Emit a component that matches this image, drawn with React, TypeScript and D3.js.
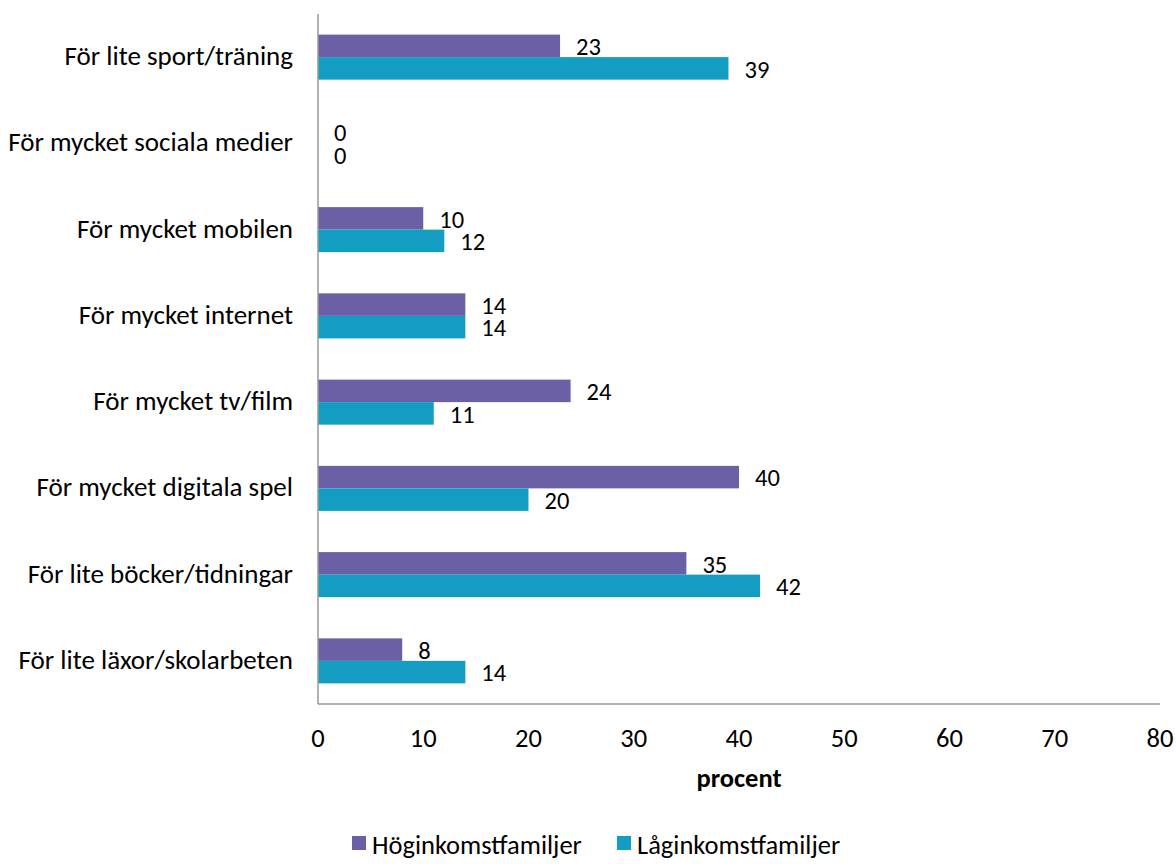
import React from "react";
import * as d3 from "d3";

const categories = [
  "För lite sport/träning",
  "För mycket sociala medier",
  "För mycket mobilen",
  "För mycket internet",
  "För mycket tv/film",
  "För mycket digitala spel",
  "För lite böcker/tidningar",
  "För lite läxor/skolarbeten",
];
const hogValues = [23, 0, 10, 14, 24, 40, 35, 8];
const lagValues = [39, 0, 12, 14, 11, 20, 42, 14];
const seriesNames = ["Höginkomstfamiljer", "Låginkomstfamiljer"];
const seriesColors = ["#6B5FA5", "#149DC3"];
const xTicks = [0, 10, 20, 30, 40, 50, 60, 70, 80];

const W = 1176;
const H = 864;
const FONT = "Carlito, Calibri, Lato, sans-serif";
const FS = 26.5;
const FS_VAL = 24.5;

export default function App() {
  const left = 318, right = 1160, top = 14, bottom = 704;
  const x = d3.scaleLinear().domain([0, 80]).range([left, right]);
  const y = d3.scaleBand<string>().domain(categories).range([top, bottom]).paddingInner(0.478).paddingOuter(0.239);
  const bw = y.bandwidth() / 2;
  const series = [hogValues, lagValues];
  return (
    <svg width={W} height={H} style={{ position: "absolute", left: 0, top: 0, fontFamily: FONT }}>
      <rect width={W} height={H} fill="#fff" />
      {categories.map((c, i) => (
        <g key={c}>
          <text x={293} y={(y(c) ?? 0) + bw + 8} textAnchor="end" fontSize={27} fill="#000">{c}</text>
          {series.map((vals, s) => {
            const yy = (y(c) ?? 0) + s * bw;
            return (
              <g key={s}>
                <rect x={x(0)} y={yy} width={x(vals[i]) - x(0)} height={bw} fill={seriesColors[s]} />
                <text x={x(vals[i]) + 16} y={yy + bw - 2} fontSize={FS_VAL} fill="#000">{vals[i]}</text>
              </g>
            );
          })}
        </g>
      ))}
      <line x1={left} x2={left} y1={top} y2={bottom} stroke="#999" strokeWidth={1.5} />
      <line x1={left} x2={right} y1={bottom} y2={bottom} stroke="#999" strokeWidth={1.5} />
      {xTicks.map((t) => (
        <text key={t} x={x(t)} y={747} textAnchor="middle" fontSize={FS} fill="#000">{t}</text>
      ))}
      <text x={(left + right) / 2} y={787} textAnchor="middle" fontSize={FS} fontWeight="bold" fill="#000">procent</text>
      {seriesNames.map((n, s) => {
        const lx = s === 0 ? 352 : 617;
        return (
          <g key={n}>
            <rect x={lx} y={836} width={14} height={14} fill={seriesColors[s]} />
            <text x={lx + 20} y={854} fontSize={FS} fill="#000">{n}</text>
          </g>
        );
      })}
    </svg>
  );
}
